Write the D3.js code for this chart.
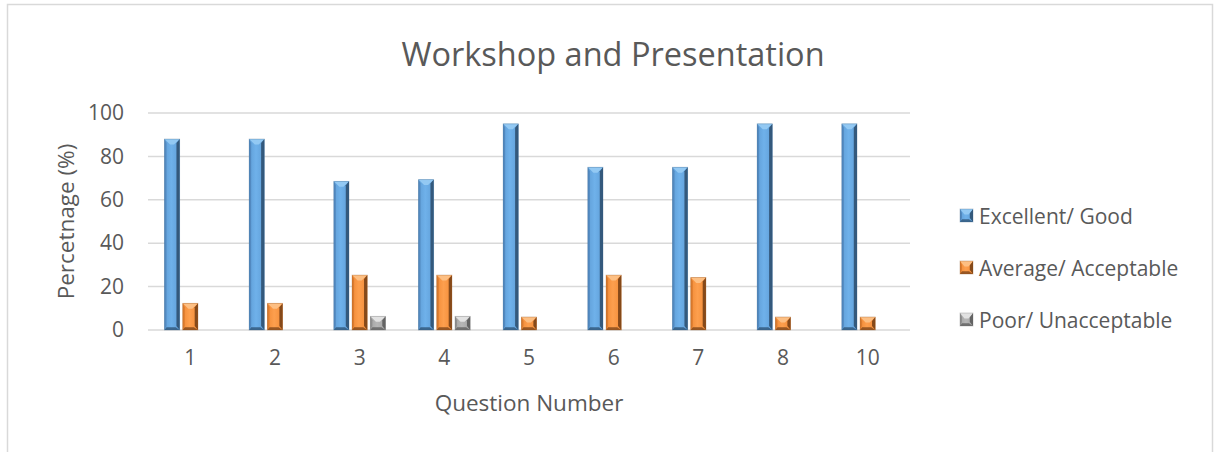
<!DOCTYPE html>
<html>
<head>
<meta charset="utf-8">
<script src="https://cdn.jsdelivr.net/npm/d3@7"></script>
<style>
  body { margin: 0; background: #fff; }
  text { font-family: "Open Sans", sans-serif; fill: #595959; }
</style>
</head>
<body>
<svg id="chart" width="1215" height="452"></svg>
<script>
// Chart data
const questions = ['1', '2', '3', '4', '5', '6', '7', '8', '10'];
const seriesNames = ['Excellent/ Good', 'Average/ Acceptable', 'Poor/ Unacceptable'];
const excellentGood = [88, 88, 68.5, 69.3, 95, 75, 75, 95, 95];
const averageAcceptable = [12.3, 12.3, 25.3, 25.3, 6, 25.3, 24.2, 6, 6];
const poorUnacceptable = [0, 0, 6.3, 6.3, 0, 0, 0, 0, 0];
const yTicks = [0, 20, 40, 60, 80, 100];

const seriesValues = [excellentGood, averageAcceptable, poorUnacceptable];

// Colours per series (bevel faces)
const palette = [
  { left: '#5289c0', light: '#6fb1ea', mid: '#609fd8', right: '#34597c', top: '#93c9f3', bottom: '#2f5578' },
  { left: '#dc7b2e', light: '#fd9f4e', mid: '#f28c38', right: '#85491a', top: '#fdbf83', bottom: '#80461a' },
  { left: '#8e8e8e', light: '#b6b6b6', mid: '#a5a5a5', right: '#636363', top: '#e2e2e2', bottom: '#606060' }
];

const svg = d3.select('#chart');
const margin = { left: 148, right: 910, top: 113, bottom: 330 };

// outer chart border
svg.append('rect')
  .attr('x', 7.5).attr('y', 4.5)
  .attr('width', 1205).attr('height', 470)
  .attr('fill', 'none')
  .attr('stroke', '#d9d9d9')
  .attr('stroke-width', 1.5);

// gradients
const defs = svg.append('defs');
palette.forEach((p, i) => {
  const g = defs.append('linearGradient')
    .attr('id', 'grad' + i)
    .attr('x1', '0%').attr('x2', '100%').attr('y1', '0%').attr('y2', '0%');
  g.append('stop').attr('offset', '0%').attr('stop-color', p.mid);
  g.append('stop').attr('offset', '45%').attr('stop-color', p.light);
  g.append('stop').attr('offset', '100%').attr('stop-color', p.mid);
});

// Scales
const x0 = d3.scaleBand()
  .domain(questions)
  .range([margin.left, margin.right]);

const x1 = d3.scaleBand()
  .domain(d3.range(seriesNames.length))
  .range([16.5, x0.bandwidth() - 16.5])
  .paddingInner(0.17);

const y = d3.scaleLinear()
  .domain([0, 100])
  .range([margin.bottom, margin.top]);

// Gridlines
svg.append('g')
  .selectAll('line')
  .data(yTicks)
  .enter()
  .append('line')
  .attr('x1', margin.left)
  .attr('x2', margin.right)
  .attr('y1', d => y(d))
  .attr('y2', d => y(d))
  .attr('stroke', '#d9d9d9')
  .attr('stroke-width', 1.5);

// Y axis
const yAxis = svg.append('g')
  .attr('transform', `translate(${margin.left},0)`)
  .call(d3.axisLeft(y).tickValues(yTicks).tickSize(0).tickPadding(24));
yAxis.select('.domain').remove();
yAxis.selectAll('text')
  .attr('font-size', '21px')
  .attr('font-family', '"Open Sans", sans-serif')
  .attr('fill', '#595959');

// X axis
const xAxis = svg.append('g')
  .attr('transform', `translate(0,${margin.bottom})`)
  .call(d3.axisBottom(x0).tickSize(0).tickPadding(20));
xAxis.select('.domain').remove();
xAxis.selectAll('text')
  .attr('font-size', '21px')
  .attr('font-family', '"Open Sans", sans-serif')
  .attr('fill', '#595959');

// Bevelled bar drawing
function drawBevelBar(g, bx, by, bw, bh, p, i) {
  if (bh <= 0) return;
  const b = Math.min(4, bh / 2, bw / 3);
  g.append('rect')
    .attr('x', bx).attr('y', by)
    .attr('width', bw).attr('height', bh)
    .attr('fill', `url(#grad${i})`);
  // left face
  g.append('path')
    .attr('d', `M${bx},${by}L${bx + b * 0.5},${by + b}L${bx + b * 0.5},${by + bh - b}L${bx},${by + bh}Z`)
    .attr('fill', p.left);
  // right face
  g.append('path')
    .attr('d', `M${bx + bw},${by}L${bx + bw - b * 0.8},${by + b}L${bx + bw - b * 0.8},${by + bh - b}L${bx + bw},${by + bh}Z`)
    .attr('fill', p.right);
  // top face
  g.append('path')
    .attr('d', `M${bx},${by}L${bx + bw},${by}L${bx + bw / 2 + 2},${by + b + 1.5}L${bx + bw / 2 - 2},${by + b + 1.5}Z`)
    .attr('fill', p.top);
  // bottom face
  g.append('path')
    .attr('d', `M${bx},${by + bh}L${bx + bw},${by + bh}L${bx + bw - b},${by + bh - b * 0.7}L${bx + b * 0.5},${by + bh - b * 0.7}Z`)
    .attr('fill', p.bottom)
    .attr('opacity', 0.8);
  g.append('rect')
    .attr('x', bx).attr('y', by)
    .attr('width', bw).attr('height', bh)
    .attr('fill', 'none')
    .attr('stroke', p.right)
    .attr('stroke-opacity', 0.35)
    .attr('stroke-width', 0.8);
}

// Bars
const bars = svg.append('g').attr('class', 'bars');
questions.forEach((q, qi) => {
  seriesValues.forEach((vals, si) => {
    const v = vals[qi];
    if (!v) return;
    const bx = x0(q) + x1(si);
    drawBevelBar(bars, bx, y(v), x1.bandwidth(), y(0) - y(v), palette[si], si);
  });
});

// Title
svg.append('text')
  .attr('x', 613)
  .attr('y', 66)
  .attr('text-anchor', 'middle')
  .attr('font-size', '32.5px')
  .text('Workshop and Presentation');

// Axis titles
svg.append('text')
  .attr('transform', `translate(74,${(margin.top + margin.bottom) / 2}) rotate(-90)`)
  .attr('text-anchor', 'middle')
  .attr('font-size', '22.5px')
  .text('Percetnage (%)');

svg.append('text')
  .attr('x', (margin.left + margin.right) / 2)
  .attr('y', 411)
  .attr('text-anchor', 'middle')
  .attr('font-size', '22.5px')
  .text('Question Number');

// Legend
const legend = svg.append('g').attr('class', 'legend');
const legendY = [216, 268, 320];
seriesNames.forEach((name, i) => {
  drawBevelBar(legend, 960, legendY[i] - 7, 13, 13, palette[i], i);
  legend.append('text')
    .attr('x', 979)
    .attr('y', legendY[i] + 7.5)
    .attr('font-size', '21px')
    .text(name);
});
</script>
</body>
</html>
